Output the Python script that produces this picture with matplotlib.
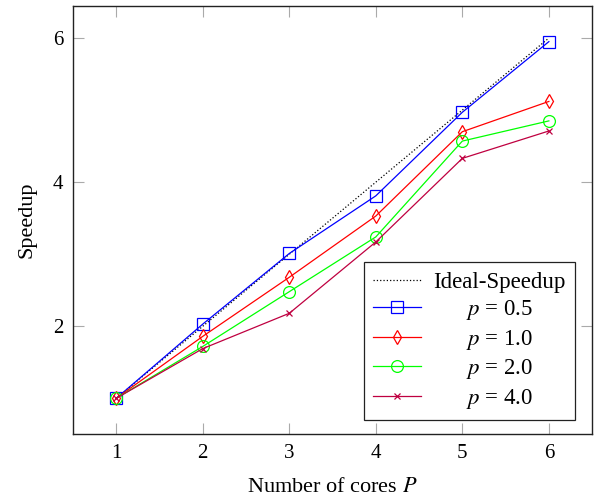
import matplotlib
matplotlib.use('Agg')
from matplotlib import pyplot as plt

plt.rcParams['font.family'] = ['Liberation Serif', 'DejaVu Serif']
plt.rcParams['mathtext.fontset'] = 'stix'

cores = [1, 2, 3, 4, 5, 6]
ideal = [1, 2, 3, 4, 5, 6]
p_05 = [1, 2.03, 3.01, 3.81, 4.97, 5.95]
p_10 = [1, 1.86, 2.68, 3.53, 4.70, 5.12]
p_20 = [1, 1.72, 2.48, 3.24, 4.57, 4.85]
p_40 = [1, 1.69, 2.18, 3.17, 4.33, 4.71]

fig = plt.figure(figsize=(6.03, 4.96), dpi=100)
ax = fig.add_axes([0.121, 0.125, 0.861, 0.863])

pad = '      '
ax.plot(cores, ideal, ':', color='black', lw=0.9, label='Ideal-Speedup')
ax.plot(cores, p_05, '-', color='blue', lw=0.9, marker='s', ms=8, mfc='none', mew=0.9,
        label=pad + '$p$ = 0.5')
ax.plot(cores, p_10, '-', color='red', lw=0.9, marker='d', ms=7, mfc='none', mew=0.9,
        label=pad + '$p$ = 1.0')
ax.plot(cores, p_20, '-', color='#00ff00', lw=0.9, marker='o', ms=8.5, mfc='none', mew=0.9,
        label=pad + '$p$ = 2.0')
ax.plot(cores, p_40, '-', color=(0.75, 0, 0.25), lw=0.9, marker='x', ms=5, mew=0.9,
        label=pad + '$p$ = 4.0')

ax.set_xlim(0.5, 6.5)
ax.set_ylim(0.505, 6.445)
ax.set_xticks([1, 2, 3, 4, 5, 6])
ax.set_yticks([2, 4, 6])
ax.tick_params(direction='in', top=True, right=True, length=8, color='#aaaaaa',
               labelsize=15, pad=7)
for s in ax.spines.values():
    s.set_linewidth(1.0)
    s.set_color('#222222')

ax.set_xlabel('Number of cores $P$', fontsize=16, labelpad=11)
ax.set_ylabel('Speedup', fontsize=16, labelpad=12)

leg = ax.legend(loc='lower right', bbox_to_anchor=(0.967, 0.033), borderaxespad=0,
                fontsize=16.5, fancybox=False, edgecolor='#222222', framealpha=1,
                handlelength=2.1, handletextpad=0.55, borderpad=0.4, labelspacing=0.24)
leg.get_frame().set_linewidth(0.9)

plt.savefig('out.png')
plt.close()
